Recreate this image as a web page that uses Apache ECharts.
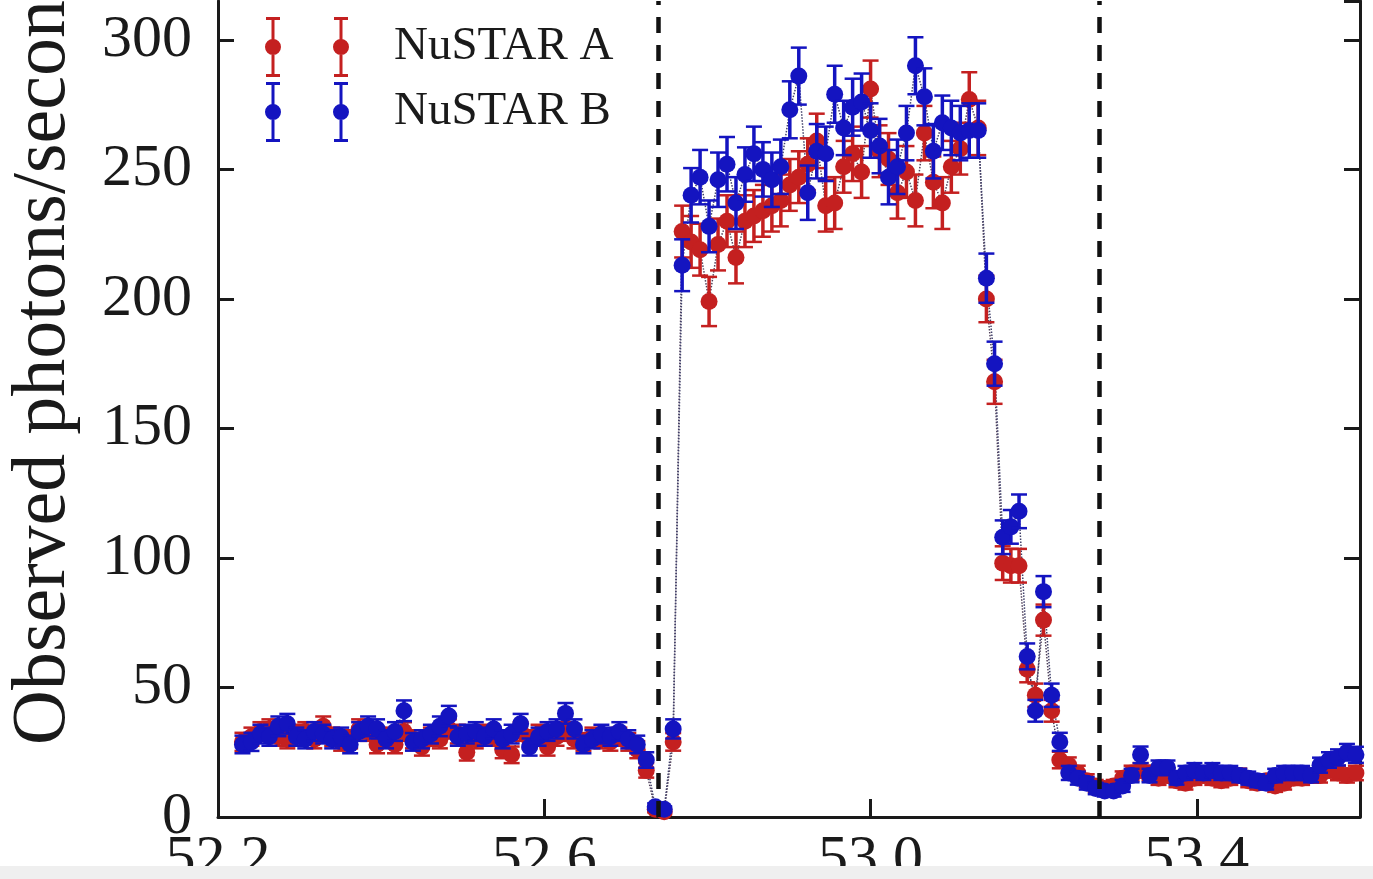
<!DOCTYPE html>
<html>
<head>
<meta charset="utf-8">
<script src="https://cdn.jsdelivr.net/npm/echarts@6/dist/echarts.min.js"></script>
<style>
html, body { margin: 0; padding: 0; background: #fff; }
#chart { width: 1373px; height: 879px; }
</style>
</head>
<body>
<div id="chart"></div>
<script>
// time axis (bin centres)
var times = [
	52.230, 52.241, 52.252, 52.263, 52.274, 52.285, 52.296, 52.307, 52.318, 52.329,
	52.340, 52.351, 52.362, 52.373, 52.384, 52.395, 52.406, 52.417, 52.428, 52.439,
	52.450, 52.461, 52.472, 52.483, 52.494, 52.505, 52.516, 52.527, 52.538, 52.549,
	52.560, 52.571, 52.582, 52.593, 52.604, 52.615, 52.626, 52.637, 52.648, 52.659,
	52.670, 52.681, 52.692, 52.703, 52.714, 52.725, 52.736, 52.747, 52.758, 52.769,
	52.780, 52.791, 52.802, 52.813, 52.824, 52.835, 52.846, 52.857, 52.868, 52.879,
	52.890, 52.901, 52.912, 52.923, 52.934, 52.945, 52.956, 52.967, 52.978, 52.989,
	53.000, 53.011, 53.022, 53.033, 53.044, 53.055, 53.066, 53.077, 53.088, 53.099,
	53.110, 53.121, 53.132,
	53.142, 53.152, 53.162, 53.172, 53.182, 53.192, 53.202, 53.212, 53.222, 53.232,
	53.243, 53.254, 53.265, 53.276, 53.287, 53.298, 53.309, 53.320, 53.331, 53.342,
	53.353, 53.364, 53.375, 53.386, 53.397, 53.408, 53.419, 53.430, 53.441, 53.452,
	53.463, 53.474, 53.485, 53.496, 53.507, 53.518, 53.529, 53.540, 53.551, 53.562,
	53.573, 53.584, 53.595
];

// NuSTAR A (red)
var rateA = [
	29, 31, 33, 34, 31, 30, 32, 33, 30, 35, 31, 29, 30, 34, 33, 28, 31, 28, 33, 30,
	27, 31, 30, 34, 32, 25, 30, 32, 31, 26, 24, 33, 30, 32, 27, 31, 33, 30, 29, 31,
	30, 29, 31, 29, 26, 18, 3, 2, 29, 226,
	222, 219, 199, 221, 230, 216, 230, 232, 234, 236, 238, 244, 247, 252, 261, 236, 237, 251, 256, 249,
	281, 257, 254, 241, 249, 238, 264, 245, 237, 251, 258, 277, 266,
	200, 168, 98, 97, 97, 57, 47, 76, 41, 22,
	20, 17, 14, 12, 11, 12, 15, 17, 18, 17, 15, 16, 14, 13, 15, 16, 15, 14, 15, 16,
	14, 13, 14, 12, 13, 15, 15, 16, 16, 18, 17, 16, 17
];
var errA = [
	3.5, 3.5, 3.6, 3.7, 3.5, 3.5, 3.6, 3.6, 3.5, 3.8, 3.5, 3.4, 3.5, 3.7, 3.6, 3.4, 3.5, 3.4, 3.6, 3.5,
	3.3, 3.5, 3.5, 3.7, 3.6, 3.2, 3.5, 3.6, 3.5, 3.3, 3.2, 3.6, 3.5, 3.6, 3.3, 3.5, 3.6, 3.5, 3.4, 3.5,
	3.5, 3.4, 3.5, 3.4, 3.3, 2.8, 1.2, 1.0, 3.4, 10,
	10, 10, 9.5, 10, 10, 10, 10, 10, 10, 10, 10, 10, 10, 10, 10.5, 10, 10, 10, 10.5, 10,
	11, 10, 10, 10, 10, 10, 10.5, 10, 10, 10, 10, 10.5, 10.5,
	9, 8.5, 6.5, 6.5, 6.5, 5, 4.5, 6, 4.2, 3.2,
	3, 2.8, 2.5, 2.3, 2.2, 2.3, 2.6, 2.8, 2.8, 2.8, 2.6, 2.7, 2.5, 2.4, 2.6, 2.7, 2.6, 2.5, 2.6, 2.7,
	2.5, 2.4, 2.5, 2.3, 2.4, 2.6, 2.6, 2.7, 2.7, 2.8, 2.8, 2.7, 2.8
];

// NuSTAR B (blue)
var rateB = [
	28, 29, 32, 31, 35, 36, 31, 30, 33, 32, 30, 31, 28, 33, 35, 34, 30, 33, 41, 29,
	30, 32, 35, 39, 31, 32, 33, 31, 34, 30, 32, 36, 27, 31, 33, 34, 40, 34, 28, 30,
	32, 31, 33, 30, 28, 22, 4, 3, 34, 213,
	240, 247, 228, 246, 252, 237, 248, 256, 250, 246, 251, 273, 286, 241, 257, 256, 279, 266, 274, 276,
	265, 259, 247, 251, 264, 290, 278, 257, 268, 266, 264, 265, 265,
	208, 175, 108, 112, 118, 62, 41, 87, 47, 29,
	17, 15, 13, 11, 10, 10, 12, 16, 24, 16, 19, 19, 15, 17, 18, 17, 18, 17, 17, 16,
	15, 14, 13, 16, 17, 17, 17, 16, 20, 22, 23, 25, 24
];
var errB = [
	3.4, 3.5, 3.6, 3.5, 3.8, 3.8, 3.5, 3.5, 3.6, 3.6, 3.5, 3.5, 3.4, 3.6, 3.8, 3.7, 3.5, 3.6, 4.0, 3.4,
	3.5, 3.6, 3.8, 3.9, 3.5, 3.6, 3.6, 3.5, 3.7, 3.5, 3.6, 3.8, 3.3, 3.5, 3.6, 3.7, 4.0, 3.7, 3.4, 3.5,
	3.6, 3.5, 3.6, 3.5, 3.4, 3.0, 1.3, 1.1, 3.7, 10,
	10.5, 10.5, 10, 10.5, 10.5, 10, 10.5, 10.5, 10.5, 10.5, 10.5, 11, 11, 10.5, 10.5, 10.5, 11, 10.5, 11, 11,
	10.5, 10.5, 10.5, 10.5, 10.5, 11, 11, 10.5, 10.5, 10.5, 10.5, 10.5, 10.5,
	9.5, 8.5, 6.5, 6.5, 6.5, 5, 4.2, 6, 4.5, 3.5,
	2.7, 2.5, 2.4, 2.2, 2.1, 2.1, 2.3, 2.6, 3.2, 2.6, 2.8, 2.8, 2.5, 2.7, 2.8, 2.7, 2.8, 2.7, 2.7, 2.6,
	2.5, 2.5, 2.4, 2.6, 2.7, 2.7, 2.7, 2.6, 2.9, 3.0, 3.1, 3.2, 3.1
];

// vertical dashed markers
var markTimes = [52.744, 53.280];

var xTicks = { min: 52.2, max: 53.6, interval: 0.4 };
var yTicks = { min: 0, max: 315, interval: 50 };

var colorA = '#c42020';
var colorB = '#1414c0';
var serifFont = '"Liberation Serif", "DejaVu Serif", serif';

function buildPoints(rate, err) {
	var out = [];
	for (var i = 0; i < times.length; i++) {
		out.push([times[i], rate[i], err[i]]);
	}
	return out;
}
function buildLine(rate) {
	var out = [];
	for (var i = 0; i < times.length; i++) {
		out.push([times[i], rate[i]]);
	}
	return out;
}

// errorbar with caps + round marker
function errRender(color) {
	return function(params, api) {
		var x = api.value(0), y = api.value(1), e = api.value(2);
		var c = api.coord([x, y]);
		var hi = api.coord([x, y + e]);
		var lo = api.coord([x, y - e]);
		var hw = 8;
		return {
			type: 'group',
			children: [
				{ type: 'line', shape: { x1: c[0], y1: hi[1], x2: c[0], y2: lo[1] }, style: { stroke: color, lineWidth: 3.5 } },
				{ type: 'line', shape: { x1: c[0] - hw, y1: hi[1], x2: c[0] + hw, y2: hi[1] }, style: { stroke: color, lineWidth: 2.5 } },
				{ type: 'line', shape: { x1: c[0] - hw, y1: lo[1], x2: c[0] + hw, y2: lo[1] }, style: { stroke: color, lineWidth: 2.5 } },
				{ type: 'circle', shape: { cx: c[0], cy: c[1], r: 8.5 }, style: { fill: color } }
			]
		};
	};
}

// legend icon: two errorbars (numpoints = 2)
function barPath(cx) {
	return 'M ' + (cx - 7) + ' 0 H ' + (cx + 7) + ' V 3 H ' + (cx + 1.5) + ' V 57 H ' + (cx + 7) + ' V 60 H ' + (cx - 7) +
		' V 57 H ' + (cx - 1.5) + ' V 3 H ' + (cx - 7) + ' Z ' +
		'M ' + (cx - 8) + ' 30 A 8 8 0 1 1 ' + (cx + 8) + ' 30 A 8 8 0 1 1 ' + (cx - 8) + ' 30 Z ';
}
var legendIcon = 'path://' + barPath(16) + barPath(84) + 'M 128 30 L 128.01 30 L 128.01 30.01 Z';

var chart = echarts.init(document.getElementById('chart'));

var option = {
	backgroundColor: '#ffffff',
	animation: false,
	color: [colorA, colorB],
	grid: { left: 218, right: 13, top: 1, bottom: 62, outerBoundsMode: 'none', containLabel: false },
	legend: {
		orient: 'vertical',
		left: 260,
		top: 12,
		itemWidth: 128,
		itemHeight: 60,
		itemGap: 5,
		data: [
			{ name: 'NuSTAR A', icon: legendIcon },
			{ name: 'NuSTAR B', icon: legendIcon }
		],
		textStyle: { fontFamily: serifFont, fontSize: 47, color: '#1a1a1a' }
	},
	xAxis: {
		type: 'value',
		min: xTicks.min,
		max: xTicks.max,
		interval: xTicks.interval,
		splitLine: { show: false },
		axisLine: { lineStyle: { color: '#1a1a1a', width: 3 } },
		axisTick: { inside: true, length: 18, lineStyle: { color: '#1a1a1a', width: 3 } },
		axisLabel: {
			showMaxLabel: false,
			margin: 13,
			fontFamily: serifFont,
			fontSize: 60,
			color: '#1a1a1a',
			formatter: function(v) { return v.toFixed(1); }
		}
	},
	yAxis: [{
		type: 'value',
		min: yTicks.min,
		max: yTicks.max,
		interval: yTicks.interval,
		splitLine: { show: false },
		axisLine: { show: true, lineStyle: { color: '#1a1a1a', width: 3 } },
		axisTick: { inside: true, length: 16, lineStyle: { color: '#1a1a1a', width: 3 } },
		axisLabel: {
			showMaxLabel: false,
			margin: 26,
			fontFamily: serifFont,
			fontSize: 60,
			color: '#1a1a1a'
		}
	}, {
		type: 'value',
		position: 'right',
		min: yTicks.min,
		max: yTicks.max,
		interval: yTicks.interval,
		splitLine: { show: false },
		axisLine: { show: true, lineStyle: { color: '#1a1a1a', width: 3 } },
		axisTick: { inside: true, length: 16, lineStyle: { color: '#1a1a1a', width: 3 } },
		axisLabel: { show: false }
	}],
	graphic: [{
		type: 'text',
		x: 44,
		y: 745,
		rotation: Math.PI / 2,
		style: {
			text: 'Observed photons/second',
			font: '76px "Liberation Serif", "DejaVu Serif", serif',
			fill: '#1a1a1a',
			textAlign: 'left',
			textVerticalAlign: 'middle'
		}
	}, {
		type: 'rect',
		left: 0,
		bottom: 0,
		z: 100,
		shape: { width: 1373, height: 13 },
		style: { fill: '#efefef' }
	}],
	series: [{
		name: 'lineA',
		type: 'line',
		data: buildLine(rateA),
		showSymbol: false,
		silent: true,
		z: 1,
		lineStyle: { type: 'dotted', width: 1.5, color: '#50405a' },
		markLine: {
			silent: true,
			symbol: 'none',
			label: { show: false },
			lineStyle: { type: [16, 12], width: 4.5, color: '#111111' },
			data: [{ xAxis: markTimes[0] }, { xAxis: markTimes[1] }]
		}
	}, {
		name: 'lineB',
		type: 'line',
		data: buildLine(rateB),
		showSymbol: false,
		silent: true,
		z: 1,
		lineStyle: { type: 'dotted', width: 1.5, color: '#40406a' }
	}, {
		name: 'NuSTAR A',
		type: 'custom',
		z: 2,
		itemStyle: { color: colorA },
		renderItem: errRender(colorA),
		encode: { x: 0, y: 1 },
		data: buildPoints(rateA, errA)
	}, {
		name: 'NuSTAR B',
		type: 'custom',
		z: 3,
		itemStyle: { color: colorB },
		renderItem: errRender(colorB),
		encode: { x: 0, y: 1 },
		data: buildPoints(rateB, errB)
	}]
};

chart.setOption(option);
</script>
</body>
</html>
